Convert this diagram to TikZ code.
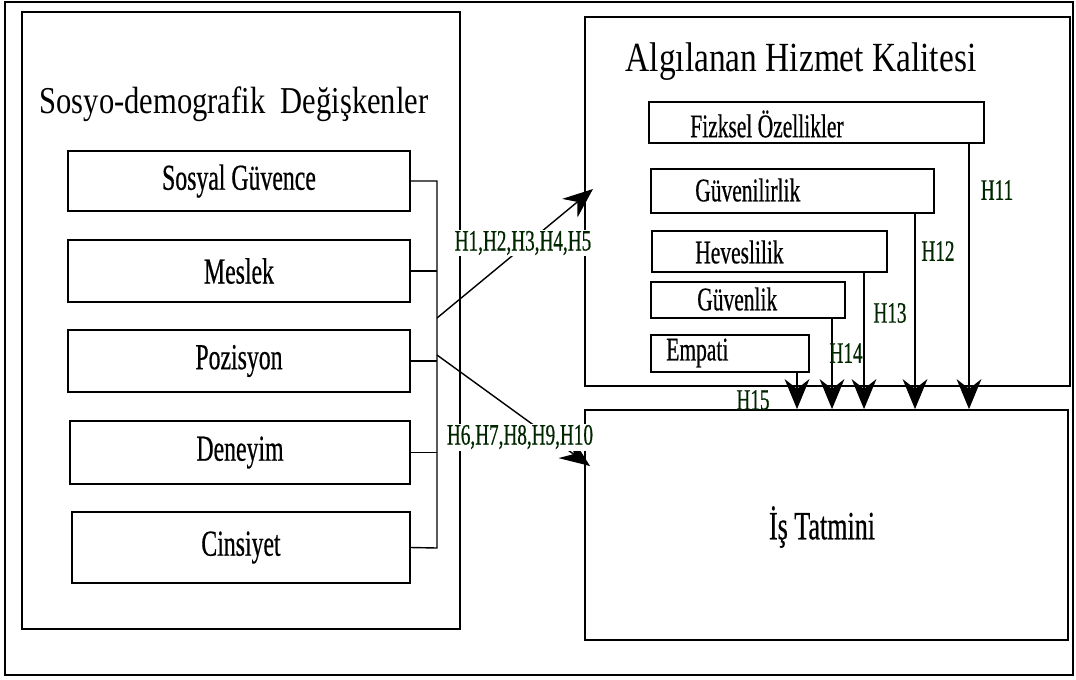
\documentclass[tikz,border=0pt]{standalone}
\usepackage{fontspec}
\setmainfont{Liberation Serif}
\newfontfamily\titlefont[FakeStretch=0.805]{Liberation Serif}
\newfontfamily\boxfont[FakeStretch=0.65,FakeBold=0.5]{Liberation Serif}
\usetikzlibrary{arrows.meta,fit}
\begin{document}
\begin{tikzpicture}[x=0.025cm,y=-0.025cm,
  box/.style={draw, line width=1.3pt, inner sep=0pt},
  bigbox/.style={draw, line width=1.3pt, inner sep=0pt},
  titletext/.style={font=\titlefont\fontsize{27pt}{30pt}\selectfont},
  boxtext/.style={font=\boxfont\fontsize{26pt}{29pt}\selectfont, inner sep=0pt},
  itext/.style={font=\boxfont\fontsize{23.5pt}{26pt}\selectfont, inner sep=0pt, anchor=west},
  htext/.style={font=\boxfont\fontsize{21pt}{24pt}\selectfont, inner sep=1pt, text=black!85!green},
  link/.style={line width=1pt},
  sidearrow/.style={line width=1pt, -{Stealth[length=0.75cm, width=0.6cm]}},
  downarrow/.style={line width=1pt, -{Stealth[length=0.75cm, width=0.62cm]}}]
% Canvas and outer frame
\useasboundingbox (0,0) rectangle (1076,679);
\draw[line width=1.8pt] (5,2) rectangle (1073,675);
% Left block: socio-demographic variables
\node[bigbox, fit={(22,12) (460,629)}] (sosyo) {};
\node[titletext] (sosyotitle) at (234,104) {Sosyo-demografik\ \ Değişkenler};
\node[box, fit={(68,151) (410,211)}] (sosyal) {};
\node[box, fit={(68,240) (410,302)}] (meslek) {};
\node[box, fit={(68,330) (410,392)}] (pozisyon) {};
\node[box, fit={(70,421) (410,484)}] (deneyim) {};
\node[box, fit={(72,512) (410,583)}] (cinsiyet) {};
\node[boxtext] (sosyaltext) at (sosyal) {Sosyal Güvence};
\node[boxtext] (meslektext) at (meslek) {Meslek};
\node[boxtext] (pozisyontext) at (pozisyon) {Pozisyon};
\node[boxtext] (deneyimtext) at (deneyim) {Deneyim};
\node[boxtext] (cinsiyettext) at (cinsiyet) {Cinsiyet};
% Right upper block: perceived service quality
\node[bigbox, fit={(585,17) (1070,386)}] (kalite) {};
\node[titletext, font=\titlefont\fontsize{29.5pt}{32pt}\selectfont] (kalitetitle) at (801,62) {Algılanan Hizmet Kalitesi};
\node[box, fit={(649,102) (984,143)}] (fiz) {};
\node[box, fit={(651,169) (934,213)}] (guvenilir) {};
\node[box, fit={(652,231) (887,272)}] (heves) {};
\node[box, fit={(651,282) (845,318)}] (guvenlik) {};
\node[box, fit={(651,335) (809,372)}] (empati) {};
\node[itext] (fiztext) at (690,124) {Fizksel Özellikler};
\node[itext] (guvenilirtext) at (695,190) {Güvenilirlik};
\node[itext] (hevestext) at (695,252) {Heveslilik};
\node[itext] (guvenliktext) at (697,299) {Güvenlik};
\node[itext] (empatitext) at (666,353) {Empati};
% Right lower block: job satisfaction
\node[bigbox, fit={(585,410) (1068,640)}] (tatmin) {};
\node[font=\boxfont\fontsize{28.5pt}{32pt}\selectfont] (tatmintext) at (822,527) {İş Tatmini};
% Bracket joining the five variables
\coordinate (bt) at (437,181);
\coordinate (bb) at (437,548);
\draw[link] (sosyal.east) -- (bt) -- (bb) -- (cinsiyet.east);
\foreach \b in {meslek,pozisyon,deneyim}
  \draw[link] (\b.east) -- (\b.east -| bt);
% Arrows to both blocks
\coordinate (j1) at (437,318);
\coordinate (j2) at (437,355);
\coordinate (t1) at (593,189);
\coordinate (t2) at (590,466);
\draw[sidearrow] (j1) -- (t1);
\draw[sidearrow] (j2) -- (t2);
\node[htext, fill=white] (h1) at (523,243) {H1,H2,H3,H4,H5};
\node[htext, fill=white] (h6) at (520,437) {H6,H7,H8,H9,H10};
% Dimension arrows into job satisfaction
\coordinate (a1) at (969,0);
\coordinate (a2) at (915,0);
\coordinate (a3) at (864,0);
\coordinate (a4) at (832,0);
\coordinate (a5) at (797,0);
\draw[downarrow] (a1 |- fiz.south) -- (a1 |- tatmin.north);
\draw[downarrow] (a2 |- guvenilir.south) -- (a2 |- tatmin.north);
\draw[downarrow] (a3 |- heves.south) -- (a3 |- tatmin.north);
\draw[downarrow] (a4 |- guvenlik.south) -- (a4 |- tatmin.north);
\draw[downarrow] (a5 |- empati.south) -- (a5 |- tatmin.north);
\node[htext] (h11) at (997,190) {H11};
\node[htext] (h12) at (938,251) {H12};
\node[htext] (h13) at (890,313) {H13};
\node[htext] (h14) at (846,353) {H14};
\node[htext] (h15) at (753,400) {H15};
\end{tikzpicture}
\end{document}
